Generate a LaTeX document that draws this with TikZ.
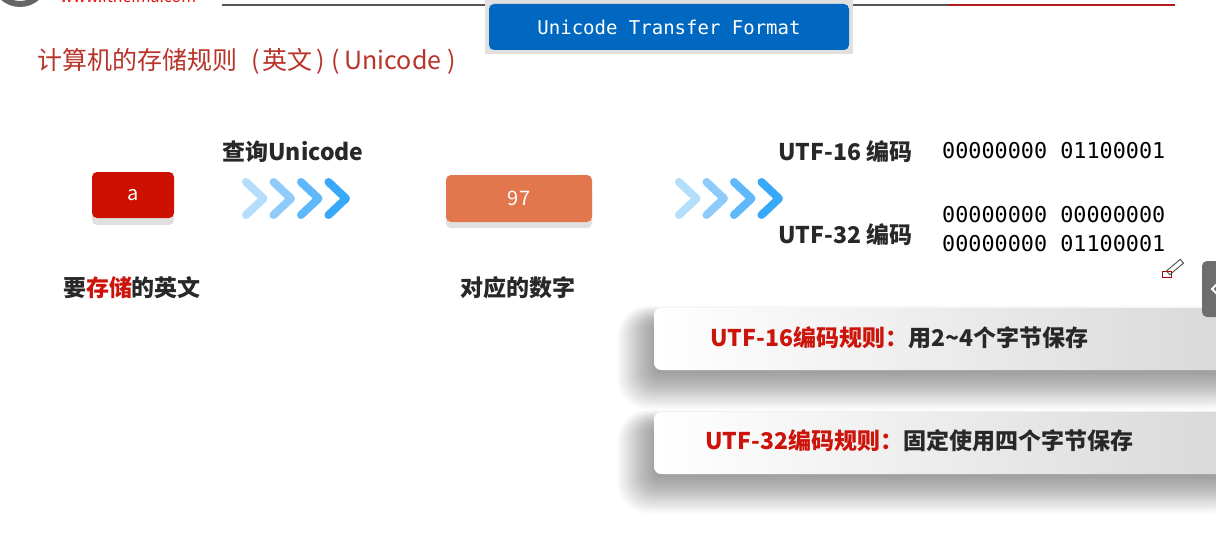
\documentclass[tikz,border=0pt]{standalone}
\usepackage{fontspec}
\setmainfont{Noto Sans CJK SC}
\newfontfamily\monof{DejaVu Sans Mono}
\definecolor{titlered}{RGB}{184,52,42}
\definecolor{boxred}{RGB}{204,17,0}
\definecolor{txtred}{RGB}{205,20,10}
\definecolor{boxorange}{RGB}{226,118,76}
\definecolor{txtdark}{RGB}{40,40,40}
\definecolor{boxblue}{RGB}{0,104,192}
\definecolor{chA}{RGB}{181,222,253}
\definecolor{chB}{RGB}{142,203,251}
\definecolor{chC}{RGB}{94,184,249}
\definecolor{chD}{RGB}{56,168,248}
\definecolor{lineg}{RGB}{85,85,85}
\definecolor{liner}{RGB}{175,30,30}
\definecolor{tabgray}{RGB}{110,110,110}
\definecolor{shadowg}{RGB}{224,224,224}
\definecolor{urlred}{RGB}{230,20,20}
\tikzset{
  bigb/.style={font=\fontsize{23}{28}\selectfont\bfseries, text=txtdark, inner sep=0pt},
  mono/.style={font=\monof\fontsize{21.8}{26}\selectfont, text=black, inner sep=0pt, anchor=west},
  valbox/.style={rounded corners=5pt, text=white, font=\fontsize{20}{24}\selectfont, inner sep=0pt},
  chev/.style={line width=8pt, line cap=round, line join=round},
  rulebox/.style={rounded corners=7pt, left color=white, right color=black!15},
  softshadow/.style={black, opacity=0.017},
}
\begin{document}
\begin{tikzpicture}[x=1pt,y=-1pt]
\useasboundingbox (0,0) rectangle (1216,535);
\fill[white] (0,0) rectangle (1216,535);
% logo remnants
\draw[line width=6pt, black!60] (20,-22) circle (26);
\node[text=urlred, font=\fontsize{16}{18}\selectfont, anchor=base west, inner sep=0pt] (url) at (60,2.5) {www.itheima.com};
% top rule
\draw[lineg, line width=2.5pt] (222,5) -- (948,5);
\draw[liner, line width=2.5pt] (948,5) -- (1175,5);
% blue box
\fill[black!12] (485,0) rectangle (853,54);
\node[fill=boxblue, rounded corners=5pt, minimum width=360pt, minimum height=46pt, text=white,
  font=\monof\fontsize{19}{22}\selectfont, inner sep=0pt] (utf) at (669,27) {Unicode Transfer Format};
% title
\node[anchor=west, text=titlered, font=\fontsize{25}{30}\selectfont, inner sep=0pt] (title) at (37,61)
  {计算机的存储规则\hspace{14pt}(\hspace{3pt}英文\hspace{4pt})\hspace{6pt}(\hspace{5pt}Unicode\hspace{6pt})};
% value boxes
\fill[shadowg, rounded corners=5pt] (92,180) rectangle (174,225);
\node[valbox, fill=boxred, minimum width=82pt, minimum height=46pt] (a) at (133,195) {a};
\fill[shadowg, rounded corners=5pt] (446,183) rectangle (592,228);
\node[valbox, fill=boxorange, minimum width=146pt, minimum height=47pt] (n97) at (519,198.5) {97};
% labels
\node[bigb] (lq) at (293,152) {查询Unicode};
\node[bigb] (la) at (132,288) {要\textcolor{txtred}{存储}的英文};
\node[bigb] (ln) at (518,288) {对应的数字};
% chevrons
\foreach \x/\c in {242/chA,269.5/chB,297/chC,324.5/chD}{
  \draw[chev, \c] (\x+4,182) -- (\x+21.5,198.5) -- (\x+4,215);
}
\foreach \x/\c in {675/chA,702.5/chB,730/chC,757.5/chD}{
  \draw[chev, \c] (\x+4,182) -- (\x+21.5,198.5) -- (\x+4,215);
}
% encodings
\node[bigb, anchor=west] (u16) at (778,152) {UTF-16 编码};
\node[bigb, anchor=west] (u32) at (778,235) {UTF-32 编码};
\node[mono] (b16) at (942,151) {00000000 01100001};
\node[mono] (b32a) at (942,215) {00000000 00000000};
\node[mono] (b32b) at (942,244) {00000000 01100001};
% cursor remnants
\draw[red!70!black, line width=0.8pt] (1162.5,271.5) rectangle (1171,277.5);
\draw[black!70, line width=0.9pt, rotate around={40:(1175,267)}] (1166,264.5) rectangle (1184,269.5);
% rule boxes with soft shadows
\foreach \top in {308,412}{
  \foreach \i in {1,...,26}{
    \fill[softshadow, rounded corners=6pt+\i pt] (656-\i*1.5,\top+16-\i*0.7) rectangle (1240,\top+62+2+\i*1.45);
  }
}
\path[rulebox] (654,308) rectangle (1230,370);
\node[bigb, anchor=west] (r16) at (710,338) {\textcolor{txtred}{UTF-16编码规则：}用2\char`\~4个字节保存};
\path[rulebox] (654,412) rectangle (1230,474);
\node[bigb, anchor=west] (r32) at (705,441) {\textcolor{txtred}{UTF-32编码规则：}固定使用四个字节保存};
% side tab
\fill[tabgray, rounded corners=5pt] (1202,261) rectangle (1230,317);
\draw[white, line width=2pt] (1217,284) -- (1212,289) -- (1217,294);
\end{tikzpicture}
\end{document}
